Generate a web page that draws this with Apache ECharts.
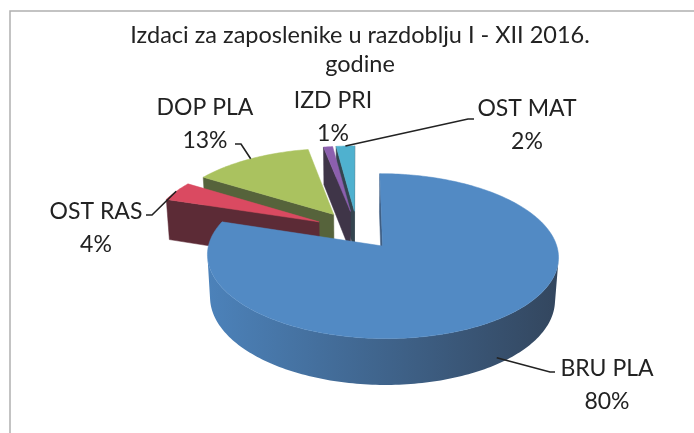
<!DOCTYPE html>
<html>
<head>
<meta charset="utf-8">
<script src="https://cdn.jsdelivr.net/npm/echarts@6/dist/echarts.min.js"></script>
<style>
  html, body { margin: 0; padding: 0; background: #fff; }
  #chart { width: 694px; height: 433px; }
</style>
</head>
<body>
<div id="chart"></div>
<script>
// podaci
const names = ['BRU PLA', 'OST RAS', 'DOP PLA', 'IZD PRI', 'OST MAT'];
const values = [80, 4, 13, 1, 2];
const topColors = ['#528ac4', '#da4a61', '#aac25f', '#8c5fae', '#4fb1cf'];
const wallColors = ['#3e5d82', '#5c2b36', '#56633b', '#3f3548', '#34444f'];
const sideFrom = ['#4c82ba', '#7a3442', '#6b7a45', '#4a3d58', '#3d5d70'];
const sideTo = ['#33465e', '#4a242c', '#4a5433', '#2f2a36', '#2c3a44'];

// raspored natpisa (centar bloka teksta) i lom linije
const labelPos = [[607, 385], [96, 228], [205, 124], [333, 117], [527, 125]];
const leaderPts = [[[550, 372], [555, 372]], [[152, 215], [146, 215]], [[241, 144], [235, 144]], null, [[468, 119], [474, 119]]];
const anchorZ = [0.85, 0, 0, 0, 0];

// 3D projekcija
const X0 = 357, Y0 = 230, S = 170;
const sinE = 0.455, cosE = 0.89, D = 7.46;
const explode = 0.25, depth = 0.28;
const cam = [0, -D * cosE, D * sinE];

function proj (x, y, z) {
  const w = y * cosE - z * sinE;
  const v = y * sinE + z * cosE;
  const f = 1 / (1 + w / D);
  return [X0 + S * x * f, Y0 - S * v * f];
}
function facing (n, p) {
  return n[0] * (cam[0] - p[0]) + n[1] * (cam[1] - p[1]) + n[2] * (cam[2] - p[2]) > 0;
}

const total = values.reduce((a, b) => a + b, 0);
const startAngles = [];
let acc = 0;
values.forEach(v => { startAngles.push(acc / total * Math.PI * 2); acc += v; });

// redoslijed crtanja: najdalji prvi
const order = values.map((v, i) => {
  const m = startAngles[i] + v / total * Math.PI;
  return { i: i, oy: Math.cos(m) };
}).sort((a, b) => b.oy - a.oy).map(o => o.i);

function renderItem (params, api) {
  const i = params.dataIndex;
  const val = api.value(0);
  const a0 = startAngles[i];
  const a1 = a0 + val / total * Math.PI * 2;
  const m = (a0 + a1) / 2;
  const ox = explode * Math.sin(m);
  const oy = explode * Math.cos(m);
  const base = order.indexOf(i) * 10;
  const children = [];
  const steps = Math.max(4, Math.ceil((a1 - a0) / 0.02));
  const rim = (t, z) => proj(ox + Math.sin(t), oy + Math.cos(t), z);

  // radijalni zidovi
  const walls = [[a0, a0 - Math.PI / 2], [a1, a1 + Math.PI / 2]];
  walls.forEach(w => {
    const n = [Math.sin(w[1]), Math.cos(w[1]), 0];
    const p = [ox + Math.sin(w[0]) / 2, oy + Math.cos(w[0]) / 2, -depth / 2];
    if (!facing(n, p)) return;
    children.push({
      type: 'polygon',
      z2: base + 1,
      shape: { points: [proj(ox, oy, 0), rim(w[0], 0), rim(w[0], -depth), proj(ox, oy, -depth)] },
      style: { fill: wallColors[i], stroke: wallColors[i], lineWidth: 0.5 }
    });
  });

  // vanjski zid
  let run = [];
  const flush = () => {
    if (run.length > 1) {
      const top = run.map(t => rim(t, 0));
      const bot = run.map(t => rim(t, -depth)).reverse();
      children.push({
        type: 'polygon',
        z2: base + 2,
        shape: { points: top.concat(bot) },
        style: {
          fill: new echarts.graphic.LinearGradient(0, 0, 1, 0, [
            { offset: 0, color: sideFrom[i] },
            { offset: 1, color: sideTo[i] }
          ]),
          stroke: null
        }
      });
    }
    run = [];
  };
  for (let k = 0; k < steps; k++) {
    const t0 = a0 + (a1 - a0) * k / steps;
    const t1 = a0 + (a1 - a0) * (k + 1) / steps;
    const tm = (t0 + t1) / 2;
    const n = [Math.sin(tm), Math.cos(tm), 0];
    const p = [ox + Math.sin(tm), oy + Math.cos(tm), -depth / 2];
    if (facing(n, p)) {
      if (!run.length) run.push(t0);
      run.push(t1);
    } else {
      flush();
    }
  }
  flush();

  // gornja ploha
  const topPts = [proj(ox, oy, 0)];
  for (let k = 0; k <= steps; k++) topPts.push(rim(a0 + (a1 - a0) * k / steps, 0));
  children.push({
    type: 'polygon',
    z2: base + 3,
    shape: { points: topPts },
    style: { fill: topColors[i], stroke: topColors[i], lineWidth: 0.5 }
  });

  // natpis
  const pct = Math.round(val / total * 100) + '%';
  children.push({
    type: 'text',
    z2: 100,
    x: labelPos[i][0],
    y: labelPos[i][1],
    style: {
      text: names[i] + '\n' + pct,
      fill: '#222',
      font: '23px Lato',
      lineHeight: 33,
      align: 'center',
      verticalAlign: 'middle'
    }
  });
  if (leaderPts[i]) {
    const an = rim(m, -depth * anchorZ[i]);
    children.push({
      type: 'polyline',
      z2: 99,
      shape: { points: [an].concat(leaderPts[i]) },
      style: { stroke: '#222', lineWidth: 1.6, fill: null }
    });
  }
  return { type: 'group', children: children };
}

const chart = echarts.init(document.getElementById('chart'));
chart.setOption({
  backgroundColor: '#fff',
  animation: false,
  title: {
    text: 'Izdaci za zaposlenike u razdoblju I - XII 2016.\ngodine',
    left: 360,
    top: 21,
    padding: 0,
    textAlign: 'center',
    textStyle: {
      fontFamily: 'Lato',
      fontSize: 23.5,
      fontWeight: 'normal',
      color: '#222',
      lineHeight: 29
    }
  },
  graphic: [{
    type: 'rect',
    shape: { x: 10, y: 11, width: 700, height: 440 },
    style: { fill: null, stroke: '#b0b0b0', lineWidth: 1.5 }
  }],
  series: [{
    type: 'custom',
    coordinateSystem: 'none',
    renderItem: renderItem,
    data: values.map(v => [v])
  }]
});
</script>
</body>
</html>
